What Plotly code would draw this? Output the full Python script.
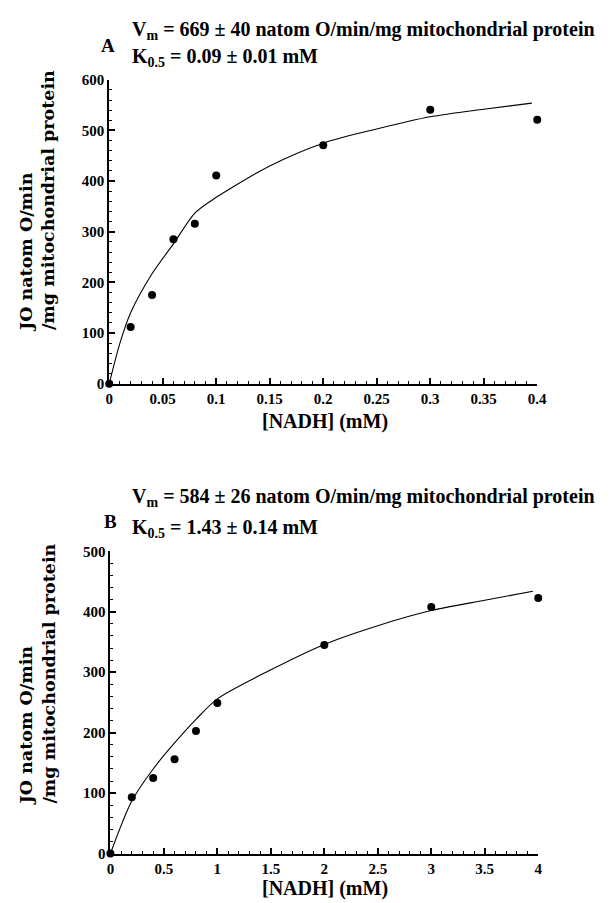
import plotly.graph_objects as go

# ---------------- data ----------------
# Panel A
a_nadh = [0, 0.02, 0.04, 0.06, 0.08, 0.1, 0.2, 0.3, 0.4]
a_jo = [0, 112, 175, 285, 316, 411, 471, 541, 521]
a_fit_x = [0, 0.01, 0.02, 0.04, 0.06, 0.08, 0.1, 0.15, 0.2, 0.25, 0.3, 0.35, 0.395]
a_fit_y = [0, 80, 140, 217, 276, 337, 368, 430, 475, 503, 527, 542, 554]
a_xtick_vals = [0, 0.05, 0.1, 0.15, 0.2, 0.25, 0.3, 0.35, 0.4]
a_xtick_text = ["0", "0.05", "0.1", "0.15", "0.2", "0.25", "0.3", "0.35", "0.4"]
a_ytick_vals = [0, 100, 200, 300, 400, 500, 600]
a_ytick_text = ["0", "100", "200", "300", "400", "500", "600"]

# Panel B
b_nadh = [0, 0.2, 0.4, 0.6, 0.8, 1, 2, 3, 4]
b_jo = [0, 93, 125, 156, 203, 249, 345, 408, 423]
b_fit_x = [0, 0.2, 0.4, 0.6, 0.8, 1, 1.5, 2, 2.5, 3, 3.5, 3.95]
b_fit_y = [0, 87, 140, 183, 222, 256, 304, 346, 377, 402, 419, 434]
b_xtick_vals = [0, 0.5, 1, 1.5, 2, 2.5, 3, 3.5, 4]
b_xtick_text = ["0", "0.5", "1", "1.5", "2", "2.5", "3", "3.5", "4"]
b_ytick_vals = [0, 100, 200, 300, 400, 500]
b_ytick_text = ["0", "100", "200", "300", "400", "500"]

W, H = 614, 903
SERIF = "Liberation Serif, Times New Roman, Times, serif"
YT_FONT = "DejaVu Serif, Liberation Serif, serif"


def px(xp):
    return xp / W


def py(yp):
    return 1 - yp / H


fig = go.Figure()

for xs, ys, xf, yf, ax in [
    (a_nadh, a_jo, a_fit_x, a_fit_y, ""),
    (b_nadh, b_jo, b_fit_x, b_fit_y, "2"),
]:
    fig.add_trace(go.Scatter(
        x=xf, y=yf, mode="lines", line=dict(color="black", width=1.1, shape="spline", smoothing=0.8),
        xaxis="x" + ax, yaxis="y" + ax, showlegend=False, hoverinfo="skip", cliponaxis=False))
    fig.add_trace(go.Scatter(
        x=xs, y=ys, mode="markers", marker=dict(color="black", size=8),
        xaxis="x" + ax, yaxis="y" + ax, showlegend=False, cliponaxis=False))

tickfont = dict(family=SERIF, size=15, color="black", weight="bold")


def xax(domain, anchor, rng, vals, text, minor):
    return dict(domain=domain, anchor=anchor, range=rng, showgrid=False, zeroline=False,
                showline=True, linecolor="black", linewidth=2,
                ticks="inside", ticklen=6, tickwidth=1.5, tickcolor="black",
                tickmode="array", tickvals=vals, ticktext=text, tickfont=tickfont,
                minor=dict(dtick=minor, ticks="inside", ticklen=3, tickwidth=1.2, tickcolor="black"),
                fixedrange=True)


def yax(domain, anchor, rng, vals, text):
    return dict(domain=domain, anchor=anchor, range=rng, showgrid=False, zeroline=False,
                showline=True, linecolor="black", linewidth=2,
                ticks="inside", ticklen=6, tickwidth=1.5, tickcolor="black",
                tickmode="array", tickvals=vals, ticktext=text, tickfont=tickfont,
                minor=dict(dtick=20, ticks="inside", ticklen=3, tickwidth=1.2, tickcolor="black"),
                fixedrange=True)


fig.update_layout(
    width=W, height=H,
    margin=dict(l=0, r=0, t=0, b=0),
    paper_bgcolor="white", plot_bgcolor="white",
    font=dict(family=SERIF, color="black"),
    xaxis=xax([px(99.5), px(537.5)], "y", [0, 0.4], a_xtick_vals, a_xtick_text, 0.01),
    yaxis=yax([py(374.3), py(65)], "x", [0, 600], a_ytick_vals, a_ytick_text),
    xaxis2=xax([px(100.7), px(538.5)], "y2", [0, 4], b_xtick_vals, b_xtick_text, 0.1),
    yaxis2=yax([py(852.7), py(545)], "x2", [0, 500], b_ytick_vals, b_ytick_text),
)

ann = []


def text(x, y, t, size=20, fam=SERIF, xanchor="left", **kw):
    ann.append(dict(xref="paper", yref="paper", x=px(x), y=py(y), text=t, showarrow=False,
                    xanchor=xanchor, yanchor="middle",
                    font=dict(family=fam, size=size, color="black", weight="bold"), **kw))


# Panel A labels
text(98, 30, "<b>A</b>", size=19, xanchor="center")
text(121, 15, "<b>V<sub>m</sub> = 669 ± 40 natom O/min/mg mitochondrial protein</b>")
text(121, 42, "<b>K<sub>0.5</sub> = 0.09 ± 0.01 mM</b>")
text(320, 413, "<b>[NADH] (mM)</b>", size=20, xanchor="center")
text(26, 188, "<b>JO natom O/min<br>/mg mitochondrial protein</b>", size=17.5, fam=YT_FONT,
     xanchor="center", textangle=-90, align="left")

# Panel B labels
text(101, 515, "<b>B</b>", size=19, xanchor="center")
text(121, 490, "<b>V<sub>m</sub> = 584 ± 26 natom O/min/mg mitochondrial protein</b>")
text(121, 522, "<b>K<sub>0.5</sub> = 1.43 ± 0.14 mM</b>")
text(320, 888, "<b>[NADH] (mM)</b>", size=20, xanchor="center")
text(26, 670, "<b>JO natom O/min<br>/mg mitochondrial protein</b>", size=17.5, fam=YT_FONT,
     xanchor="center", textangle=-90, align="left")

fig.update_layout(annotations=ann)
fig.write_html("out.html")
